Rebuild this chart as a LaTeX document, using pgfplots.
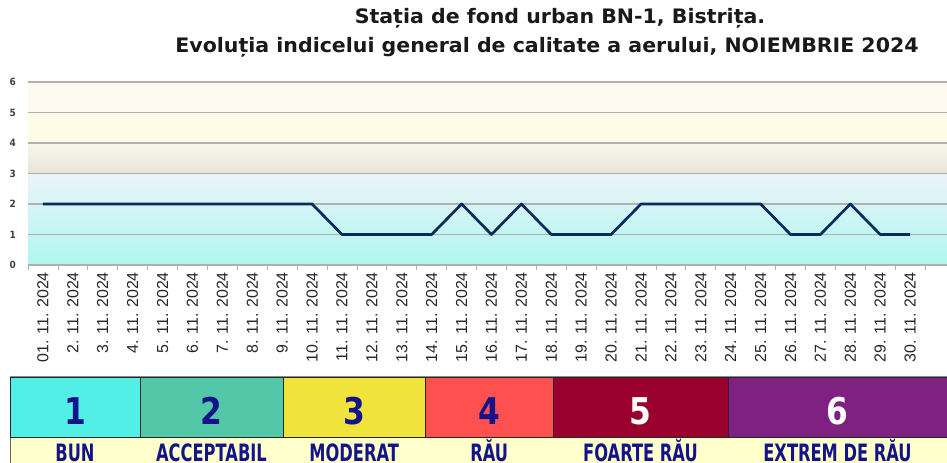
\documentclass[border=0pt]{standalone}
\usepackage{fontspec}
\usepackage{pgfplots}
\pgfplotsset{compat=1.18}
\setmainfont{DejaVu Sans}
\newfontfamily\titlefont[FakeStretch=1.03]{DejaVu Sans}
\newfontfamily\numfont[FakeStretch=0.85]{DejaVu Sans}
\newfontfamily\labfont[FakeStretch=0.68]{DejaVu Sans}
\newfontfamily\xfont{Liberation Sans}
\newfontfamily\yfont[FakeStretch=0.9]{DejaVu Sans}
\definecolor{bandA}{HTML}{AEF6EF}
\definecolor{bandB}{HTML}{ECF4F9}
\definecolor{bandC}{HTML}{E7E3DA}
\definecolor{bandD}{HTML}{F9F7EA}
\definecolor{bandE}{HTML}{FEFCE6}
\definecolor{bandF}{HTML}{FDF9F1}
\definecolor{gridc}{HTML}{B0B0B0}
\definecolor{linec}{HTML}{0B2A5E}
\definecolor{navy}{HTML}{14148A}
\definecolor{lc1}{HTML}{52EFE6}
\definecolor{lc2}{HTML}{52C8A8}
\definecolor{lc3}{HTML}{F0E43C}
\definecolor{lc4}{HTML}{FF5050}
\definecolor{lc5}{HTML}{9A002E}
\definecolor{lc6}{HTML}{7F2180}
\definecolor{labbg}{HTML}{FFFFCC}
\begin{document}
\begin{tikzpicture}[x=1bp,y=1bp]
\begin{axis}[
  set layers,
  at={(28bp,198bp)}, anchor=south west,
  scale only axis, width=927bp, height=183bp,
  xmin=0.5, xmax=31.5, ymin=0, ymax=6,
  axis line style={draw=none},
  xtick pos=bottom, ytick pos=left,
  tick align=outside,
  /pgf/number format/assume math mode=true,
  xtick={1,...,30},
  xticklabels={01. 11. 2024,2. 11. 2024,3. 11. 2024,4. 11. 2024,5. 11. 2024,6. 11. 2024,7. 11. 2024,8. 11. 2024,9. 11. 2024,10. 11. 2024,11. 11. 2024,12. 11. 2024,13. 11. 2024,14. 11. 2024,15. 11. 2024,16. 11. 2024,17. 11. 2024,18. 11. 2024,19. 11. 2024,20. 11. 2024,21. 11. 2024,22. 11. 2024,23. 11. 2024,24. 11. 2024,25. 11. 2024,26. 11. 2024,27. 11. 2024,28. 11. 2024,29. 11. 2024,30. 11. 2024},
  major x tick style={draw=none},
  minor xtick={0.5,1.5,...,31.5},
  minor tick length=5bp,
  minor x tick style={gridc, line width=0.8bp},
  xticklabel style={yshift=-7bp, rotate=90, anchor=east, inner sep=0pt,
     font=\xfont\fontsize{16}{16}\selectfont, text=black!85},
  ytick={0,...,6},
  major tick length=0pt,
  yticklabel style={anchor=east, inner sep=0pt, xshift=-12bp,
     font=\yfont\bfseries\fontsize{10}{10}\selectfont, text=black!75},
  ymajorgrids,
  grid style={gridc, line width=1.1bp},
]
\begin{pgfonlayer}{axis background}
\fill[bottom color=bandA, top color=bandB] (axis cs:0.5,0) rectangle (axis cs:31.5,3);
\fill[bottom color=bandC, top color=bandD] (axis cs:0.5,3) rectangle (axis cs:31.5,4);
\fill[bandE] (axis cs:0.5,4) rectangle (axis cs:31.5,5);
\fill[bandF] (axis cs:0.5,5) rectangle (axis cs:31.5,6);
\draw[gridc!70, line width=0.8bp] (axis cs:0.5,0) -- (axis cs:31.5,0);
\end{pgfonlayer}
\addplot[linec, line width=2.7bp, line join=round] coordinates {
(1,2)(2,2)(3,2)(4,2)(5,2)(6,2)(7,2)(8,2)(9,2)(10,2)
(11,1)(12,1)(13,1)(14,1)(15,2)(16,1)(17,2)(18,1)(19,1)(20,1)
(21,2)(22,2)(23,2)(24,2)(25,2)(26,1)(27,1)(28,2)(29,1)(30,1)};
\end{axis}
% title
\node[anchor=base, font=\titlefont\bfseries\fontsize{20}{20}\selectfont, text=black!90] at (560,439) {Stația de fond urban BN-1, Bistrița.};
\node[anchor=base, font=\titlefont\bfseries\fontsize{20}{20}\selectfont, text=black!90] at (547,410) {Evoluția indicelui general de calitate a aerului, NOIEMBRIE 2024};
% legend scale
\fill[labbg] (10,-5) rectangle (960,26);
\draw[black!60, line width=0.8bp] (10,-5) -- (10,26);
\fill[lc1] (10,26) rectangle (140,86);
\fill[lc2] (140,26) rectangle (283,86);
\fill[lc3] (283,26) rectangle (425.5,86);
\fill[lc4] (425.5,26) rectangle (553,86);
\fill[lc5] (553,26) rectangle (728,86);
\fill[lc6] (728,26) rectangle (960,86);
\draw[black!85, line width=0.9bp] (10,26) rectangle (960,86);
\foreach \xx in {140,283,425.5,553,728} {\draw[black!85, line width=0.9bp] (\xx,26) -- (\xx,86);}
\draw[black!45, line width=1.2bp] (10,86.6) -- (947,86.6);
\foreach \xx/\nn/\cc in {75/1/navy,211.5/2/navy,354.25/3/navy,489.25/4/navy,640.5/5/white,837.5/6/white}
  {\node[anchor=base, font=\numfont\bfseries\fontsize{37}{37}\selectfont, text=\cc] at (\xx,38) {\nn};}
\foreach \xx/\tt in {75/BUN,211.5/ACCEPTABIL,354.25/MODERAT,489.25/RĂU,640.5/FOARTE RĂU,837.5/EXTREM DE RĂU}
  {\node[anchor=base, font=\labfont\bfseries\fontsize{24}{24}\selectfont, text=navy] at (\xx,1) {\tt};}
\pgfresetboundingbox
\useasboundingbox (0,0) rectangle (947,463);
\end{tikzpicture}
\end{document}
